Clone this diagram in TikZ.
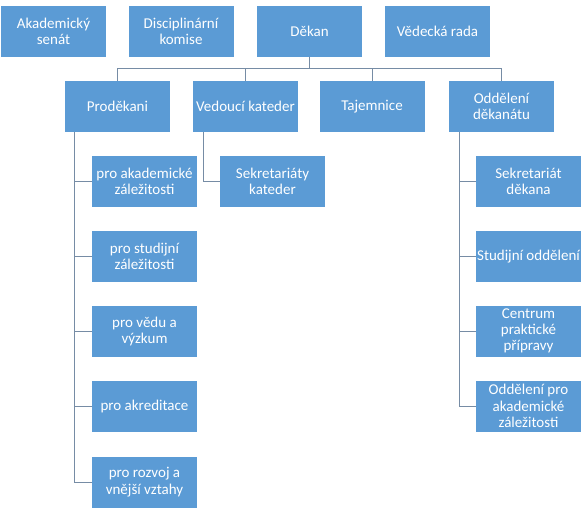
\documentclass[tikz,border=0pt]{standalone}
\usepackage{fontspec}
\setmainfont{Carlito}
\definecolor{boxblue}{RGB}{91,155,213}
\definecolor{linecol}{RGB}{118,140,165}
\begin{document}
\begin{tikzpicture}[x=1pt,y=-1pt,
  box/.style={fill=boxblue,draw=none,text=white,minimum width=105pt,minimum height=51pt,
    inner sep=0pt,align=center,font=\fontsize{15}{16.3}\selectfont},
  conn/.style={draw=linecol,line width=0.9pt}]
\useasboundingbox (0,0) rectangle (588,513);
% top row
\node[box] (senat) at (53.5,31.5) {Akademický\\senát};
\node[box] (komise) at (181,31.5) {Disciplinární\\komise};
\node[box] (dekan) at (309.5,31.5) {Děkan};
\node[box] (rada) at (437.5,31.5) {Vědecká rada};
% second row
\node[box] (prodekani) at (117.5,106.5) {Proděkani};
\node[box] (vedouci) at (245.5,106.5) {Vedoucí kateder};
\node[box] (tajemnice) at (372,106.5) {Tajemnice};
\node[box] (oddeleni) at (501.5,106.5) {Oddělení\\děkanátu};
% left children
\node[box] (p1) at (144.5,181.5) {pro akademické\\záležitosti};
\node[box] (p2) at (144.5,256.5) {pro studijní\\záležitosti};
\node[box] (p3) at (144.5,331.5) {pro vědu a\\výzkum};
\node[box] (p4) at (144.5,406.5) {pro akreditace};
\node[box] (p5) at (144.5,482) {pro rozvoj a\\vnější vztahy};
% middle child
\node[box] (sk) at (272.5,181.5) {Sekretariáty\\kateder};
% right children
\node[box] (o1) at (528.5,181.5) {Sekretariát\\děkana};
\node[box] (o2) at (528.5,256.5) {Studijní oddělení};
\node[box] (o3) at (528.5,331) {Centrum\\praktické\\přípravy};
\node[box] (o4) at (528.5,406) {Oddělení pro\\akademické\\záležitosti};
% connectors from Děkan
\foreach \t in {prodekani,vedouci,tajemnice,oddeleni}
  \draw[conn] (dekan.south) -- ++(0,11) -| (\t.north);
% Proděkani children
\foreach \c in {p1,p2,p3,p4,p5}
  \draw[conn] ([xshift=10pt]prodekani.south west) |- (\c.west);
% Vedoucí child
\draw[conn] ([xshift=11pt]vedouci.south west) |- (sk.west);
% Oddělení children
\foreach \c in {o1,o2,o3,o4}
  \draw[conn] ([xshift=11pt]oddeleni.south west) |- (\c.west);
\end{tikzpicture}
\end{document}
